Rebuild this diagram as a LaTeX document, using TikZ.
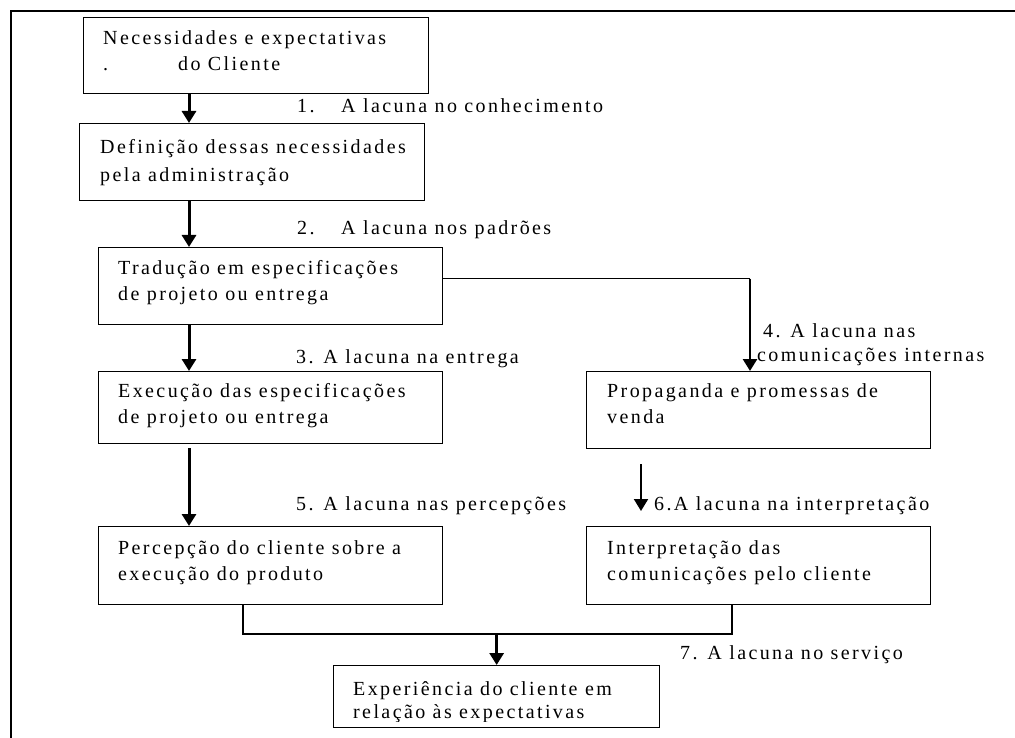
\documentclass[tikz,border=0pt]{standalone}
\usepackage{fontspec}
\setmainfont{Liberation Serif}[LetterSpace=12]
\usetikzlibrary{arrows.meta,calc}
\begin{document}
\begin{tikzpicture}[x=1pt,y=-1pt,
  box/.style={draw, line width=1.3pt, anchor=north west, inner sep=0pt},
  txt/.style={anchor=base west, inner sep=0pt, align=left,
              font=\fontsize{20}{26}\selectfont},
  flow/.style={line width=3pt, -{Triangle[length=12pt,width=14pt]}},
  thinflow/.style={line width=2pt, -{Triangle[length=12pt,width=14pt]}},
  link/.style={line width=1.3pt}]
\useasboundingbox (0,0) rectangle (1015,738);
\fill[white] (0,0) rectangle (1015,738);

% outer frame
\draw[line width=2pt] (11,738) -- (11,11) -- (1015,11);

% column guides for the vertical connectors
\coordinate (colL) at (189,0);
\coordinate (colR) at (750,0);
\coordinate (colI) at (641,0);
\coordinate (joinL) at (243,0);
\coordinate (joinR) at (732,0);
\coordinate (joinY) at (0,634);

% boxes
\node[box, minimum width=345pt, minimum height=76pt] (b1) at (83,17) {};
\node[box, minimum width=345pt, minimum height=77pt] (b2) at (79,123) {};
\node[box, minimum width=344pt, minimum height=77pt] (b3) at (98,247) {};
\node[box, minimum width=344pt, minimum height=72pt] (b4) at (98,371) {};
\node[box, minimum width=344pt, minimum height=77pt] (b5) at (586,371) {};
\node[box, minimum width=344pt, minimum height=78pt] (b6) at (98,526) {};
\node[box, minimum width=344pt, minimum height=78pt] (b7) at (586,526) {};
\node[box, minimum width=326pt, minimum height=62pt] (b8) at (333,665) {};

% box texts (anchored on the baseline of their last line)
\node[txt] (t1) at (103,71) {Necessidades e expectativas\\\makebox[75pt][l]{.}do Cliente};
\node[txt] (t2) at (100,182) {Definição dessas necessidades\\[2pt]pela administração};
\node[txt] (t3) at (118,300) {Tradução em especificações\\de projeto ou entrega};
\node[txt] (t4) at (118,423) {Execução das especificações\\de projeto ou entrega};
\node[txt] (t5) at (607,423) {Propaganda e promessas de\\venda};
\node[txt] (t6) at (118,580) {Percepção do cliente sobre a\\execução do produto};
\node[txt] (t7) at (607,580) {Interpretação das\\comunicações pelo cliente};
% the last box's text area is shorter than the box, so descenders are cut
\begin{scope}
  \clip (b8.north west) rectangle ([yshift=7pt]b8.south east);
  \node[txt] (t8) at (353,718) {Experiência do cliente em\\[-3pt]relação às expectativas};
\end{scope}

% gap labels
\node[txt] (l1) at (297,113) {\makebox[44pt][l]{1.}A lacuna no conhecimento};
\node[txt] (l2) at (297,235) {\makebox[44pt][l]{2.}A lacuna nos padrões};
\node[txt] (l3) at (296,363) {3. A lacuna na entrega};
\node[txt] (l4) at (757,361) {\hspace*{6pt}4. A lacuna nas\\[-2pt]comunicações internas};
\node[txt] (l5) at (296,510) {5. A lacuna nas percepções};
\node[txt] (l6) at (654,510) {6.A lacuna na interpretação};
\node[txt] (l7) at (680,659) {7. A lacuna no serviço};

% connectors
\draw[flow] (b1.south -| colL) -- (b2.north -| colL);
\draw[flow] (b2.south -| colL) -- (b3.north -| colL);
\draw[flow] (b3.south -| colL) -- (b4.north -| colL);
\draw[flow] ([yshift=-4pt]b4.south -| colL) -- (b6.north -| colL);
\draw[link] ([yshift=7.5pt]b3.east) -- ([yshift=7.5pt]b3.east -| colR);
\draw[line width=2.6pt, -{Triangle[length=12pt,width=14pt]}]
  ([yshift=7.5pt]b3.east -| colR) -- (b5.north -| colR);
\draw[thinflow] ([yshift=-15pt]b5.south -| colI) -- ([yshift=15pt]b7.north -| colI);
\draw[link] (b6.south -| joinL) -- (joinY -| joinL) -- (joinY -| joinR) -- (b7.south -| joinR);
\draw[flow] (joinY -| b8.north) -- (b8.north);
\end{tikzpicture}
\end{document}
